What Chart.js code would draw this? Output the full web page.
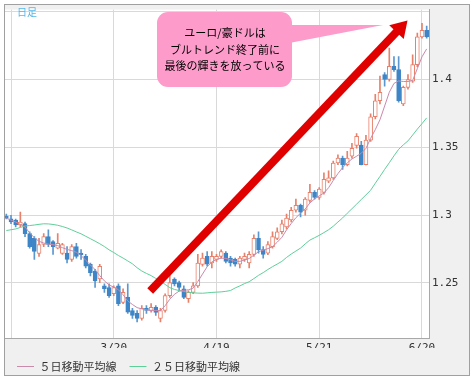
<!DOCTYPE html>
<html><head><meta charset="utf-8">
<script src="https://cdn.jsdelivr.net/npm/chart.js@4/dist/chart.umd.min.js"></script>
<style>html,body{margin:0;padding:0;background:#fff;}#wrap{width:474px;height:382px;}</style>
</head><body><div id="wrap"><canvas id="c" width="474" height="382"></canvas></div>
<script>
const dates = ['2/15',
'2/18','2/19','2/20','2/21','2/22','2/25','2/26','2/27','2/28','3/1',
'3/4','3/5','3/6','3/7','3/8','3/11','3/12','3/13','3/14','3/15',
'3/18','3/19','3/20','3/21','3/22','3/25','3/26','3/27','3/28','3/29',
'4/1','4/2','4/3','4/4','4/5','4/8','4/9','4/10','4/11','4/12',
'4/15','4/16','4/17','4/18','4/19','4/22','4/23','4/24','4/25','4/26',
'4/29','4/30','5/1','5/2','5/3','5/6','5/7','5/8','5/9','5/10',
'5/13','5/14','5/15','5/16','5/17','5/20','5/21','5/22','5/23','5/24',
'5/27','5/28','5/29','5/30','5/31','6/3','6/4','6/5','6/6','6/7',
'6/10','6/11','6/12','6/13','6/14','6/17','6/18','6/19','6/20','6/21'];

const openP = [1.2993,
1.2973,1.2964,1.2928,1.2937,1.2864,1.2828,1.2717,1.2783,1.2841,1.2804,
1.2756,1.2717,1.2720,1.2674,1.2768,1.2720,1.2696,1.2638,1.2587,1.2529,
1.2478,1.2466,1.2420,1.2478,1.2357,1.2393,1.2297,1.2275,1.2239,1.2312,
1.2297,1.2321,1.2239,1.2297,1.2406,1.2529,1.2502,1.2457,1.2384,1.2430,
1.2478,1.2636,1.2696,1.2647,1.2674,1.2696,1.2720,1.2683,1.2674,1.2638,
1.2674,1.2647,1.2710,1.2828,1.2746,1.2720,1.2768,1.2828,1.2877,1.2913,
1.2964,1.3036,1.3072,1.3036,1.3109,1.3167,1.3130,1.3167,1.3251,1.3275,
1.3384,1.3420,1.3372,1.3435,1.3514,1.3517,1.3372,1.3553,1.3725,1.3843,
1.4036,1.4000,1.4096,1.4072,1.3819,1.3942,1.3988,1.4109,1.4314,1.4362];

const highP = [1.3007,
1.2998,1.2971,1.3022,1.2949,1.2877,1.2841,1.2828,1.2864,1.2891,1.2812,
1.2864,1.2792,1.2768,1.2783,1.2792,1.2746,1.2710,1.2647,1.2601,1.2638,
1.2493,1.2493,1.2478,1.2493,1.2457,1.2493,1.2312,1.2297,1.2333,1.2333,
1.2348,1.2333,1.2312,1.2420,1.2565,1.2538,1.2514,1.2478,1.2442,1.2502,
1.2710,1.2720,1.2732,1.2732,1.2710,1.2744,1.2732,1.2696,1.2683,1.2696,
1.2720,1.2732,1.2855,1.2877,1.2768,1.2804,1.2877,1.2906,1.2964,1.3007,
1.3058,1.3118,1.3082,1.3130,1.3227,1.3181,1.3203,1.3312,1.3326,1.3399,
1.3444,1.3435,1.3471,1.3529,1.3601,1.3543,1.3589,1.3746,1.3891,1.4024,
1.4051,1.4232,1.4169,1.4169,1.3951,1.4036,1.4181,1.4341,1.4413,1.4393];

const lowP = [1.2971,
1.2937,1.2913,1.2913,1.2841,1.2756,1.2674,1.2696,1.2768,1.2768,1.2710,
1.2750,1.2710,1.2647,1.2659,1.2683,1.2674,1.2611,1.2551,1.2466,1.2502,
1.2430,1.2393,1.2406,1.2333,1.2348,1.2275,1.2239,1.2212,1.2225,1.2275,
1.2285,1.2261,1.2212,1.2285,1.2393,1.2478,1.2442,1.2384,1.2357,1.2420,
1.2466,1.2623,1.2623,1.2611,1.2659,1.2683,1.2647,1.2623,1.2623,1.2611,
1.2659,1.2611,1.2696,1.2720,1.2683,1.2708,1.2756,1.2819,1.2862,1.2899,
1.2949,1.3022,1.2986,1.3000,1.3094,1.3118,1.3116,1.3154,1.3239,1.3263,
1.3372,1.3336,1.3362,1.3420,1.3493,1.3370,1.3370,1.3543,1.3710,1.3819,
1.3951,1.3988,1.4060,1.3833,1.3807,1.3928,1.3978,1.4094,1.4304,1.4304];

const closeP = [1.2978,
1.2949,1.2928,1.2949,1.2864,1.2768,1.2732,1.2783,1.2841,1.2783,1.2768,
1.2792,1.2783,1.2674,1.2768,1.2696,1.2708,1.2623,1.2575,1.2514,1.2623,
1.2457,1.2406,1.2466,1.2348,1.2430,1.2285,1.2261,1.2239,1.2312,1.2297,
1.2321,1.2283,1.2297,1.2406,1.2502,1.2493,1.2466,1.2393,1.2430,1.2478,
1.2647,1.2684,1.2638,1.2696,1.2696,1.2732,1.2659,1.2647,1.2638,1.2683,
1.2696,1.2710,1.2828,1.2746,1.2710,1.2783,1.2841,1.2877,1.2935,1.2978,
1.3036,1.3072,1.3022,1.3118,1.3167,1.3130,1.3191,1.3263,1.3275,1.3384,
1.3420,1.3372,1.3420,1.3493,1.3580,1.3372,1.3553,1.3725,1.3843,1.3906,
1.4000,1.4096,1.4072,1.3843,1.3942,1.4000,1.4109,1.4314,1.4362,1.4314];

const ma5 = [1.2978,
1.2963,1.2949,1.2931,1.2912,1.2869,1.2833,1.2807,1.2794,1.2786,1.2782,
1.2775,1.2760,1.2747,1.2738,1.2726,1.2702,1.2667,1.2633,1.2598,1.2554,
1.2515,1.2485,1.2469,1.2450,1.2413,1.2367,1.2341,1.2318,1.2309,1.2301,
1.2296,1.2296,1.2296,1.2332,1.2380,1.2416,1.2440,1.2446,1.2449,1.2462,
1.2510,1.2565,1.2620,1.2654,1.2673,1.2683,1.2681,1.2670,1.2659,1.2659,
1.2669,1.2680,1.2705,1.2730,1.2742,1.2753,1.2767,1.2800,1.2836,1.2891,
1.2938,1.2981,1.3014,1.3045,1.3090,1.3119,1.3142,1.3163,1.3202,1.3255,
1.3306,1.3350,1.3385,1.3414,1.3434,1.3456,1.3492,1.3565,1.3630,1.3703,
1.3804,1.3906,1.3971,1.3989,1.3985,1.3985,1.3993,1.4080,1.4167,1.4225];

const ma25 = [1.2886,
1.2892,1.2898,1.2909,1.2920,1.2923,1.2927,1.2932,1.2936,1.2935,1.2931,
1.2925,1.2916,1.2905,1.2891,1.2876,1.2862,1.2844,1.2826,1.2808,1.2789,
1.2768,1.2744,1.2724,1.2702,1.2683,1.2662,1.2641,1.2612,1.2588,1.2570,
1.2554,1.2533,1.2514,1.2489,1.2465,1.2452,1.2444,1.2437,1.2431,1.2427,
1.2425,1.2424,1.2427,1.2430,1.2432,1.2434,1.2438,1.2444,1.2463,1.2478,
1.2495,1.2509,1.2532,1.2556,1.2576,1.2599,1.2620,1.2639,1.2659,1.2688,
1.2713,1.2735,1.2757,1.2788,1.2816,1.2833,1.2851,1.2871,1.2892,1.2918,
1.2949,1.2979,1.3014,1.3047,1.3081,1.3115,1.3149,1.3183,1.3235,1.3285,
1.3337,1.3386,1.3437,1.3485,1.3518,1.3547,1.3590,1.3634,1.3674,1.3717];

const gridDates = ['2/18','3/20','4/19','5/21','6/20'];
const labelDates = ['3/20','4/19','5/21','6/20'];
const yTickValues = [1.25, 1.30, 1.35, 1.40, 1.45];
const yTickLabels = ['1.25', '1.3', '1.35', '1.4', ''];
const seriesNames = ['５日移動平均線', '２５日移動平均線'];
const periodLabel = '日足';
const calloutLines = ['ユーロ/豪ドルは', 'ブルトレンド終了前に', '最後の輝きを放っている'];
const arrowFrom = [30.8, 1.2441];
const arrowTo = [85.9, 1.4435];

const UP = '#e8806a', DOWN = '#3d85c6', DOWN_WICK = '#5a97d0';
const isUp = i => closeP[i] >= openP[i];

const overlay = {
  id: 'overlay',
  beforeDraw(chart) {
    const {ctx, chartArea: a} = chart;
    ctx.save();
    ctx.fillStyle = '#ffffff'; ctx.fillRect(0, 0, chart.width, chart.height);
    ctx.fillStyle = '#f0f0f0'; ctx.fillRect(4, 4, 466, 372);
    ctx.fillStyle = '#ffffff'; ctx.fillRect(a.left, a.top, a.right - a.left, a.bottom - a.top);
    ctx.restore();
  },
  afterDatasetsDraw(chart) {
    const {ctx} = chart;
    const xs = chart.scales.x, ys = chart.scales.y;
    ctx.save();
    // arrow
    const x1 = xs.getPixelForValue(arrowFrom[0]), y1 = ys.getPixelForValue(arrowFrom[1]);
    const x2 = xs.getPixelForValue(arrowTo[0]), y2 = ys.getPixelForValue(arrowTo[1]);
    const ang = Math.atan2(y2 - y1, x2 - x1), c = Math.cos(ang), s = Math.sin(ang);
    const headLen = 16, headHalf = 10;
    const bx = x2 - headLen * c, by = y2 - headLen * s;
    ctx.strokeStyle = '#e00000'; ctx.fillStyle = '#e00000';
    ctx.lineWidth = 8; ctx.lineCap = 'butt';
    ctx.beginPath(); ctx.moveTo(x1, y1); ctx.lineTo(bx + 2 * c, by + 2 * s); ctx.stroke();
    ctx.beginPath(); ctx.moveTo(x2, y2);
    ctx.lineTo(bx - headHalf * s, by + headHalf * c);
    ctx.lineTo(bx + headHalf * s, by - headHalf * c);
    ctx.closePath(); ctx.fill();
    // callout
    ctx.fillStyle = '#fd9bcb';
    ctx.beginPath(); ctx.roundRect(157, 12, 135, 75, 11); ctx.fill();
    ctx.beginPath(); ctx.moveTo(284, 25); ctx.lineTo(383, 25); ctx.lineTo(284, 44); ctx.closePath(); ctx.fill();
    ctx.fillStyle = '#000';
    ctx.font = '11px "Noto Sans CJK JP"';
    ctx.textAlign = 'center'; ctx.textBaseline = 'middle';
    calloutLines.forEach((t, i) => ctx.fillText(t, 225, 33 + i * 16.5));
    // period label
    ctx.fillStyle = '#55b8ea';
    ctx.font = '10px "Noto Sans CJK JP"';
    ctx.textAlign = 'left';
    ctx.fillText(periodLabel, 17, 12.5);
    ctx.restore();
  },
  afterDraw(chart) {
    const {ctx} = chart;
    ctx.save();
    ctx.strokeStyle = '#a0a0a0'; ctx.lineWidth = 1;
    ctx.strokeRect(4.5, 4.5, 465, 371);
    ctx.restore();
  }
};

new Chart(document.getElementById('c'), {
  type: 'bar',
  data: {
    labels: dates,
    datasets: [
      { type: 'line', label: seriesNames[0], data: ma5, borderColor: '#c98aab', borderWidth: 1,
        pointRadius: 0, tension: 0, order: 0 },
      { type: 'line', label: seriesNames[1], data: ma25, borderColor: '#5fcf9a', borderWidth: 1,
        pointRadius: 0, tension: 0, order: 0 },
      { label: 'wick', data: dates.map((d, i) => [lowP[i], highP[i]]), barThickness: 1, grouped: false,
        backgroundColor: dates.map((d, i) => isUp(i) ? UP : DOWN_WICK), borderWidth: 0, order: 2 },
      { label: 'body', data: dates.map((d, i) => [openP[i], closeP[i]]), barThickness: 4, grouped: false,
        minBarLength: 1, borderSkipped: false, borderWidth: 1,
        backgroundColor: dates.map((d, i) => isUp(i) ? '#ffffff' : DOWN),
        borderColor: dates.map((d, i) => isUp(i) ? UP : DOWN), order: 1 }
    ]
  },
  options: {
    responsive: false, animation: false, devicePixelRatio: 1, events: [],
    layout: { padding: { left: 4, top: 4, right: 5, bottom: 0 } },
    scales: {
      x: {
        type: 'category', offset: true,
        grid: { offset: false, drawTicks: false,
          color: c => gridDates.includes(dates[c.index]) ? '#d9d9d9' : 'rgba(0,0,0,0)' },
        border: { color: '#a8a8a8' },
        ticks: { autoSkip: false, maxRotation: 0, padding: 4, color: '#333',
          font: { family: 'DejaVu Sans Mono', size: 11 },
          callback: (v, i) => labelDates.includes(dates[i]) ? dates[i] : '' },
        afterFit: s => { s.height = 10; }
      },
      y: {
        type: 'linear', position: 'right', min: 1.2094, max: 1.4515,
        afterBuildTicks: s => { s.ticks = yTickValues.map(v => ({ value: v })); },
        grid: { drawTicks: false, color: '#d9d9d9' },
        border: { color: '#a8a8a8' },
        ticks: { padding: 3, color: '#333', font: { family: 'DejaVu Sans Mono', size: 11 },
          callback: (v, i) => yTickLabels[i] },
        afterFit: s => { s.width = 40; }
      }
    },
    plugins: {
      tooltip: { enabled: false },
      legend: {
        position: 'bottom', align: 'start',
        labels: { usePointStyle: true, pointStyle: 'line', pointStyleWidth: 17, padding: 13,
          color: '#333', font: { family: 'Noto Sans CJK JP', size: 11 },
          filter: item => item.datasetIndex < 2 }
      }
    }
  },
  plugins: [overlay]
});
</script></body></html>
